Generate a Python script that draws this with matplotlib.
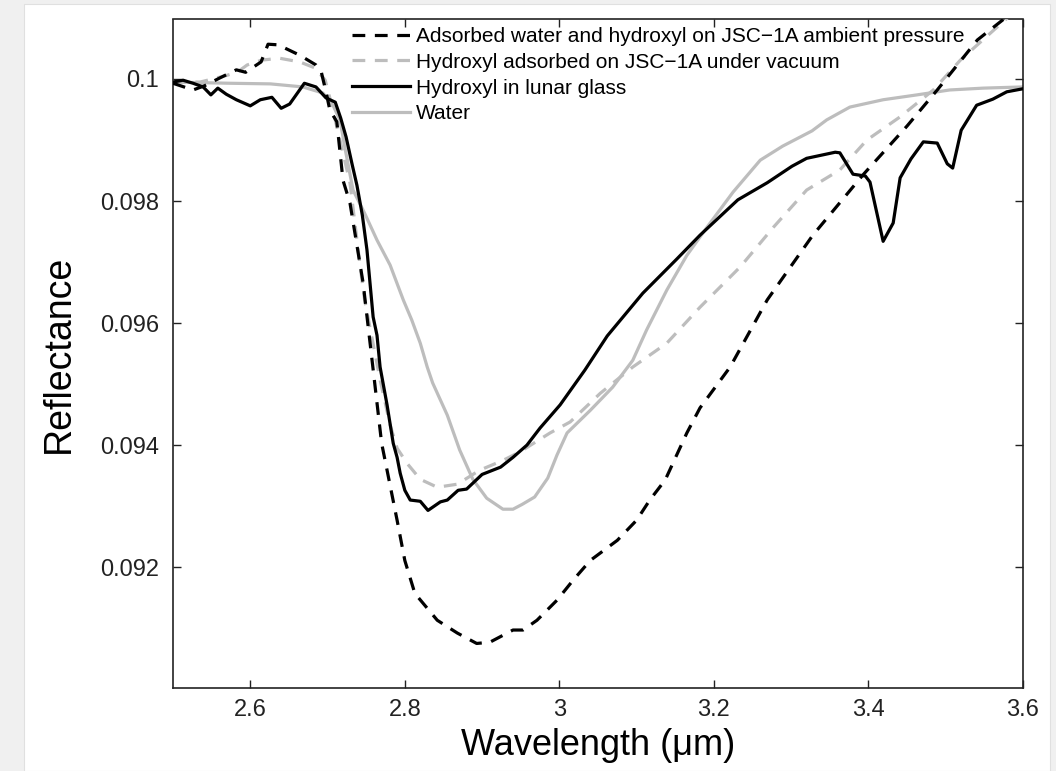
#!/usr/bin/env python3
"""Reflectance spectra around the 3 um hydration band"""
import matplotlib
matplotlib.use('Agg')
import matplotlib.pyplot as plt
from matplotlib.patches import Rectangle

plt.rcParams['font.family'] = ['Liberation Sans', 'DejaVu Sans']

# Adsorbed water and hydroxyl on JSC-1A, ambient pressure (black dashed)
amb_wl = [2.500, 2.526, 2.541, 2.561, 2.582, 2.594, 2.614, 2.623, 2.636, 2.664,
          2.685, 2.692, 2.698, 2.703, 2.712, 2.720, 2.729, 2.746, 2.761, 2.770,
          2.777, 2.790, 2.800, 2.813, 2.842, 2.868, 2.893, 2.910, 2.940, 2.953,
          2.971, 2.997, 3.018, 3.040, 3.075, 3.100, 3.117, 3.137, 3.165, 3.182,
          3.221, 3.269, 3.328, 3.393, 3.450, 3.489, 3.541, 3.574, 3.600]
amb_refl = [0.09993, 0.09982, 0.09989, 0.10002, 0.10015, 0.10011, 0.10028, 0.10057, 0.10056, 0.10039,
            0.10023, 0.10011, 0.09979, 0.09949, 0.09930, 0.09834, 0.09797, 0.09666, 0.09502, 0.09403,
            0.09359, 0.09277, 0.09211, 0.09157, 0.09113, 0.09092, 0.09075, 0.09077, 0.09097, 0.09097,
            0.09113, 0.09146, 0.09179, 0.09211, 0.09244, 0.09277, 0.09310, 0.09343, 0.09420, 0.09461,
            0.09528, 0.09638, 0.09744, 0.09843, 0.09923, 0.09982, 0.10064, 0.10097, 0.10138]

# Hydroxyl adsorbed on JSC-1A under vacuum (gray dashed)
vac_wl = [2.500, 2.535, 2.567, 2.583, 2.596, 2.615, 2.638, 2.664, 2.684, 2.697,
          2.707, 2.716, 2.729, 2.742, 2.748, 2.768, 2.781, 2.790, 2.803, 2.820,
          2.842, 2.868, 2.897, 2.927, 2.949, 2.988, 3.014, 3.053, 3.095, 3.139,
          3.182, 3.234, 3.277, 3.320, 3.363, 3.398, 3.441, 3.484, 3.519, 3.548,
          3.577, 3.600]
vac_refl = [0.09995, 0.09995, 0.10005, 0.10011, 0.10023, 0.10031, 0.10034, 0.10028, 0.10018, 0.09998,
            0.09949, 0.09900, 0.09830, 0.09695, 0.09638, 0.09507, 0.09433, 0.09395, 0.09370, 0.09344,
            0.09331, 0.09336, 0.09359, 0.09375, 0.09389, 0.09420, 0.09438, 0.09485, 0.09528, 0.09567,
            0.09626, 0.09692, 0.09757, 0.09818, 0.09851, 0.09900, 0.09938, 0.09982, 0.10031, 0.10064,
            0.10097, 0.10121]

# Hydroxyl in lunar glass (black solid)
glass_wl = [2.500, 2.513, 2.526, 2.539, 2.549, 2.558, 2.569, 2.582, 2.600, 2.613,
            2.628, 2.640, 2.651, 2.670, 2.685, 2.698, 2.710, 2.717, 2.724, 2.732,
            2.738, 2.745, 2.751, 2.759, 2.764, 2.768, 2.777, 2.785, 2.790, 2.794,
            2.800, 2.807, 2.820, 2.830, 2.846, 2.855, 2.869, 2.880, 2.900, 2.924,
            2.940, 2.958, 2.975, 3.001, 3.033, 3.062, 3.108, 3.152, 3.182, 3.231,
            3.269, 3.301, 3.320, 3.357, 3.363, 3.380, 3.396, 3.402, 3.419, 3.432,
            3.441, 3.455, 3.471, 3.489, 3.502, 3.509, 3.520, 3.540, 3.561, 3.579,
            3.600]
glass_refl = [0.09995, 0.09998, 0.09993, 0.09987, 0.09974, 0.09985, 0.09975, 0.09966, 0.09956, 0.09966,
              0.09970, 0.09952, 0.09959, 0.09993, 0.09987, 0.09969, 0.09962, 0.09936, 0.09905, 0.09859,
              0.09826, 0.09777, 0.09720, 0.09610, 0.09580, 0.09528, 0.09466, 0.09403, 0.09380, 0.09354,
              0.09326, 0.09310, 0.09308, 0.09293, 0.09307, 0.09310, 0.09326, 0.09328, 0.09352, 0.09364,
              0.09380, 0.09400, 0.09428, 0.09466, 0.09523, 0.09579, 0.09649, 0.09705, 0.09744, 0.09802,
              0.09830, 0.09857, 0.09870, 0.09880, 0.09879, 0.09844, 0.09841, 0.09831, 0.09734, 0.09764,
              0.09838, 0.09869, 0.09897, 0.09895, 0.09861, 0.09854, 0.09916, 0.09957, 0.09967, 0.09979,
              0.09984]

# Water (gray solid)
water_wl = [2.500, 2.574, 2.626, 2.668, 2.694, 2.707, 2.716, 2.723, 2.733, 2.748,
            2.764, 2.781, 2.798, 2.809, 2.820, 2.829, 2.836, 2.855, 2.871, 2.888,
            2.906, 2.927, 2.940, 2.952, 2.968, 2.985, 2.997, 3.010, 3.040, 3.069,
            3.095, 3.113, 3.139, 3.165, 3.191, 3.225, 3.260, 3.289, 3.327, 3.346,
            3.376, 3.419, 3.463, 3.505, 3.548, 3.600]
water_refl = [0.09995, 0.09993, 0.09992, 0.09987, 0.09977, 0.09957, 0.09933, 0.09884, 0.09818, 0.09780,
              0.09736, 0.09695, 0.09638, 0.09605, 0.09567, 0.09528, 0.09502, 0.09449, 0.09392, 0.09344,
              0.09313, 0.09295, 0.09295, 0.09303, 0.09315, 0.09346, 0.09384, 0.09420, 0.09457, 0.09495,
              0.09539, 0.09589, 0.09654, 0.09711, 0.09757, 0.09815, 0.09867, 0.09890, 0.09915, 0.09933,
              0.09954, 0.09966, 0.09974, 0.09982, 0.09985, 0.09987]

x_ticks = [2.6, 2.8, 3.0, 3.2, 3.4, 3.6]
x_tick_labels = ['2.6', '2.8', '3', '3.2', '3.4', '3.6']
y_ticks = [0.092, 0.094, 0.096, 0.098, 0.100]
y_tick_labels = ['0.092', '0.094', '0.096', '0.098', '0.1']

GRAY = '#bdbdbd'

fig = plt.figure(figsize=(10.56, 7.71), dpi=100, facecolor='#f0f0f0')
# white panel inside the light gray page frame
fig.patches.append(Rectangle((24 / 1056, 0), (1050 - 24) / 1056, (771 - 4) / 771,
                             transform=fig.transFigure, facecolor='white',
                             edgecolor='#e0e0e0', lw=0.8, zorder=-1))

ax = fig.add_axes([173 / 1056, 83 / 771, 850 / 1056, 668.5 / 771])

lw = 2.3
ax.plot(water_wl, water_refl, color=GRAY, lw=lw, label='Water', zorder=2)
ax.plot(vac_wl, vac_refl, color=GRAY, lw=lw, ls=(0, (4, 3)),
        label='Hydroxyl adsorbed on JSC\u22121A under vacuum', zorder=3)
ax.plot(glass_wl, glass_refl, color='black', lw=lw,
        label='Hydroxyl in lunar glass', zorder=4)
ax.plot(amb_wl, amb_refl, color='black', lw=lw, ls=(0, (4, 3)),
        label='Adsorbed water and hydroxyl on JSC\u22121A ambient pressure', zorder=5)

ax.set_xlim(2.5, 3.6)
ax.set_ylim(0.09002, 0.100975)
ax.set_xticks(x_ticks)
ax.set_xticklabels(x_tick_labels)
ax.set_yticks(y_ticks)
ax.set_yticklabels(y_tick_labels)
ax.tick_params(direction='in', length=6, width=1.0, top=True, right=True,
               labelsize=17, colors='#222222')
ax.tick_params(axis='x', pad=8)
ax.tick_params(axis='y', pad=10)
for spine in ax.spines.values():
    spine.set_linewidth(1.2)
    spine.set_color('#222222')

ax.set_xlabel('Wavelength (\u03bcm)', fontsize=26, labelpad=5)
ax.set_ylabel('Reflectance', fontsize=27, labelpad=17)

handles, labels = ax.get_legend_handles_labels()
order = [3, 1, 2, 0]
ax.legend([handles[i] for i in order], [labels[i] for i in order],
          loc='upper left', bbox_to_anchor=(0.2106, 0.989), frameon=False,
          fontsize=15, handlelength=2.8, handletextpad=0.25, labelspacing=0.33,
          borderpad=0, borderaxespad=0)

fig.savefig('out.png', dpi=100, facecolor=fig.get_facecolor())
plt.close(fig)
